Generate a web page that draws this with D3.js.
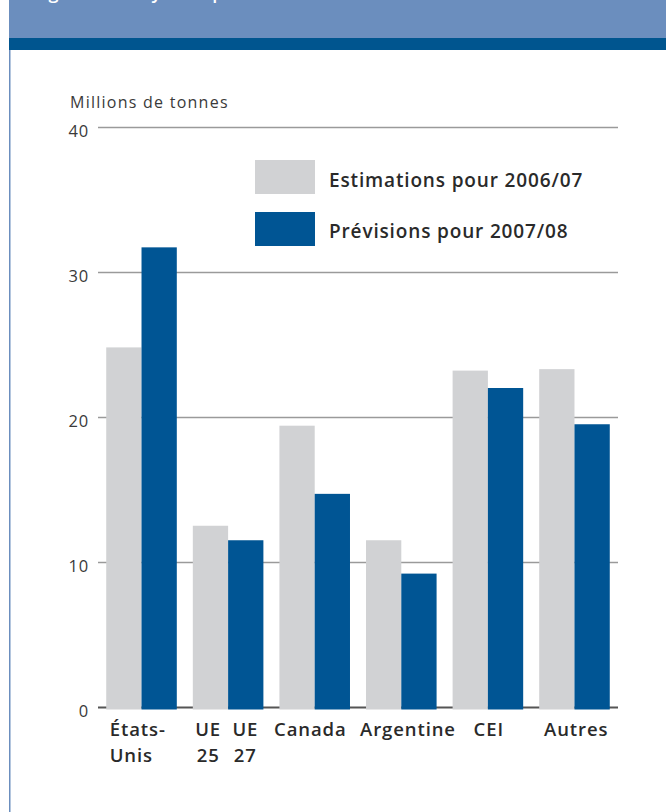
<!DOCTYPE html>
<html><head><meta charset="utf-8">
<script src="https://cdn.jsdelivr.net/npm/d3@7"></script>
<style>body{margin:0;background:#fff} svg{display:block}</style>
</head><body><svg id="c" width="666" height="812"></svg>
<script>
const categories = ["États-Unis", "UE", "Canada", "Argentine", "CEI", "Autres"];
const estimations = [24.8, 12.5, 19.4, 11.5, 23.2, 23.3];
const previsions = [31.7, 11.5, 14.7, 9.2, 22.0, 19.5];
const seriesNames = ["Estimations pour 2006/07", "Prévisions pour 2007/08"];
const seriesColors = ["#d1d2d4", "#005594"];
const yTicks = [0, 10, 20, 30, 40];
const xLabels = [
  {cat: "États-Unis", bar: null, lines: ["États-", "Unis"]},
  {cat: "UE", bar: 0, lines: ["UE", "25"]},
  {cat: "UE", bar: 1, lines: ["UE", "27"]},
  {cat: "Canada", bar: null, lines: ["Canada"]},
  {cat: "Argentine", bar: null, lines: ["Argentine"]},
  {cat: "CEI", bar: null, lines: ["CEI"]},
  {cat: "Autres", bar: null, lines: ["Autres"]}
];
const unitLabel = "Millions de tonnes";
const titleText = "Figure 5. Analyse du premier trimestre";

// layout tweaks for label placement (pixels)
const labelLayout = [
  {anchor: "start", dx: 3.5}, {anchor: "middle", dx: -2.3}, {anchor: "middle", dx: -0.4},
  {anchor: "middle", dx: -4.4}, {anchor: "middle", dx: 6.7}, {anchor: "middle", dx: 0.9}, {anchor: "middle", dx: 1.7}
];

const FONT = "'Open Sans', 'Noto Sans', sans-serif";
const svg = d3.select("#c");

// header
svg.append("rect").attr("x", 9).attr("y", 0).attr("width", 657).attr("height", 38).attr("fill", "#6b8ebe");
svg.append("rect").attr("x", 9).attr("y", 38).attr("width", 657).attr("height", 12).attr("fill", "#00558f");
svg.append("text").attr("x", 34).attr("y", -1).attr("fill", "#fff")
  .attr("font-family", FONT).attr("font-size", 18).attr("font-weight", 600).text(titleText);
svg.append("line").attr("x1", 9.75).attr("x2", 9.75).attr("y1", 50).attr("y2", 812)
  .attr("stroke", "#6b8ebe").attr("stroke-width", 1.5);

const gridL = 98, gridR = 618;
const x = d3.scaleBand().domain(categories).range([gridL, gridR]).paddingInner(0.185).paddingOuter(0.095);
const x1 = d3.scaleBand().domain([0, 1]).range([0, x.bandwidth()]);
const y = d3.scaleLinear().domain([0, 40]).range([707, 127]);

// grid + y axis
const yAxis = d3.axisLeft(y).tickValues(yTicks).tickSize(-(gridR - gridL)).tickPadding(9).tickFormat(d3.format("d"));
const ga = svg.append("g").attr("transform", `translate(${gridL},0)`).call(yAxis);
ga.select(".domain").remove();
ga.selectAll(".tick line").attr("stroke", d => d === 0 ? "#555" : "#9a9a9a").attr("stroke-width", d => d === 0 ? 2.2 : 1.6);
ga.selectAll(".tick text").attr("font-family", FONT).attr("font-size", 16.5).attr("fill", "#3a3a3a")
  .attr("dy", "0.56em").attr("letter-spacing", 0.8);

svg.append("text").attr("x", 70).attr("y", 108).attr("font-family", FONT).attr("font-size", 16)
  .attr("letter-spacing", 1.25).attr("fill", "#3a3a3a").text(unitLabel);

// bars
const rows = categories.map((c, i) => ({cat: c, vals: [estimations[i], previsions[i]]}));
const gg = svg.append("g");
gg.selectAll("g").data(rows).join("g").attr("transform", d => `translate(${x(d.cat)},0)`)
  .selectAll("rect").data(d => d.vals.map((v, k) => ({v, k}))).join("rect")
  .attr("x", d => x1(d.k)).attr("width", x1.bandwidth())
  .attr("y", d => y(d.v)).attr("height", d => y(0) - y(d.v) + 2.5)
  .attr("fill", d => seriesColors[d.k]);

// x labels
const xl = svg.append("g").attr("font-family", FONT).attr("font-size", 18.5).attr("font-weight", 600)
  .attr("letter-spacing", 0.9).attr("fill", "#2a2a2a");
xLabels.forEach((l, j) => {
  const lay = labelLayout[j];
  let cx;
  if (l.bar !== null) cx = x(l.cat) + x1(l.bar) + x1.bandwidth() / 2;
  else if (lay.anchor === "start") cx = x(l.cat);
  else cx = x(l.cat) + x.bandwidth() / 2;
  cx += lay.dx;
  const t = xl.append("text").attr("text-anchor", lay.anchor);
  l.lines.forEach((s, i) => t.append("tspan").attr("x", cx).attr("y", 736 + i * 26).text(s));
});

// legend
const lg = svg.append("g");
seriesNames.forEach((n, i) => {
  lg.append("rect").attr("x", 255).attr("y", 160 + i * 52).attr("width", 60).attr("height", 34).attr("fill", seriesColors[i]);
  lg.append("text").attr("x", 329).attr("y", 187 + i * 51).attr("font-family", FONT).attr("font-size", 19)
    .attr("letter-spacing", 0.85).attr("font-weight", 600).attr("fill", "#2a2a2a").text(n);
});
</script></body></html>
